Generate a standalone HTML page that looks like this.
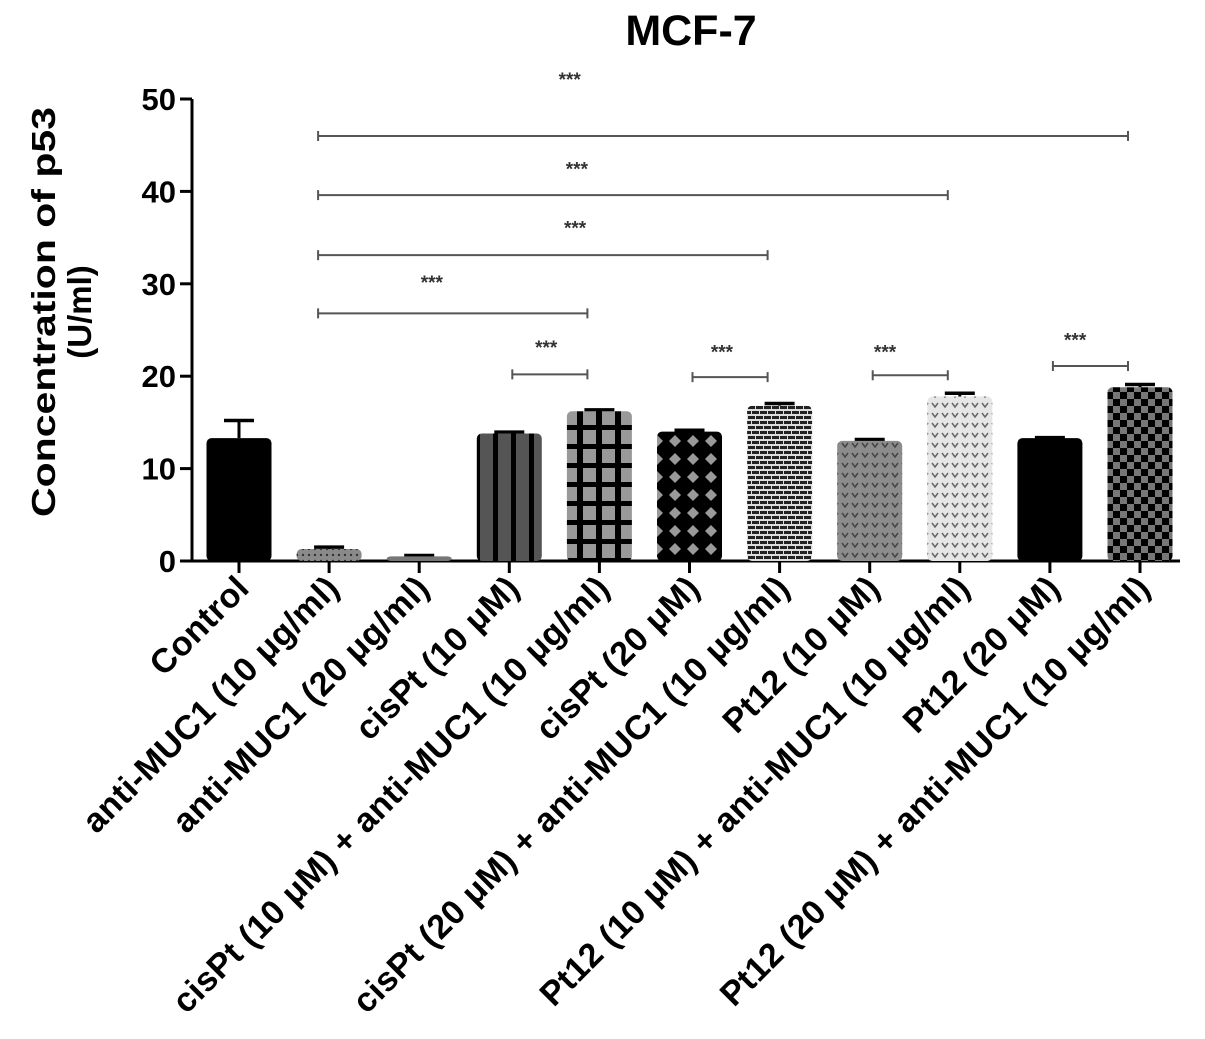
<!DOCTYPE html>
<html><head><meta charset="utf-8"><style>body{margin:0;background:#fff}svg{display:block;font-family:"Liberation Sans",sans-serif}</style></head>
<body>
<svg id="chart" width="1205" height="1039" viewBox="0 0 1205 1039">
<defs>
<pattern id="p1" width="6" height="6" patternUnits="userSpaceOnUse"><rect width="6" height="6" fill="#8a8a8a"/><circle cx="3" cy="3" r="1.2" fill="#333"/></pattern>
<pattern id="p3" width="18" height="10" patternUnits="userSpaceOnUse"><rect width="18" height="10" fill="#555"/><rect x="7" width="5" height="10" fill="#000"/></pattern>
<pattern id="p4" width="19" height="19" patternUnits="userSpaceOnUse"><rect width="19" height="19" fill="#999"/><rect x="7" width="6" height="19" fill="#000"/><rect y="7" width="19" height="5" fill="#000"/></pattern>
<pattern id="p5" width="18" height="18" patternUnits="userSpaceOnUse"><rect width="18" height="18" fill="#000"/><path d="M9 3 L15 9 L9 15 L3 9Z" fill="#999"/></pattern>
<pattern id="p6" width="16" height="10" patternUnits="userSpaceOnUse"><rect width="16" height="10" fill="#ddd"/><rect y="1" width="7" height="3" fill="#222"/><rect x="8" y="1" width="7" height="3" fill="#222"/><rect x="-4" y="6" width="7" height="3" fill="#222"/><rect x="4" y="6" width="7" height="3" fill="#222"/><rect x="12" y="6" width="7" height="3" fill="#222"/></pattern>
<pattern id="p7" width="10" height="10" patternUnits="userSpaceOnUse"><rect width="10" height="10" fill="#8c8c8c"/><path d="M2 3 L5 7 L8 3" stroke="#444" stroke-width="1.5" fill="none"/></pattern>
<pattern id="p8" width="10" height="10" patternUnits="userSpaceOnUse"><rect width="10" height="10" fill="#e6e6e6"/><path d="M2 3 L5 7 L8 3" stroke="#666" stroke-width="1.5" fill="none"/></pattern>
<pattern id="p10" width="14" height="14" patternUnits="userSpaceOnUse"><rect width="14" height="14" fill="#777"/><rect width="7" height="7" fill="#000"/><rect x="7" y="7" width="7" height="7" fill="#000"/></pattern>
</defs>
<text x="691" y="45" font-size="43" font-weight="bold" text-anchor="middle">MCF-7</text>
<g font-size="33" font-weight="bold" text-anchor="middle">
<text transform="translate(55,312) rotate(-90)" textLength="410" lengthAdjust="spacingAndGlyphs">Concentration of p53</text>
<text transform="translate(91,312) rotate(-90)">(U/ml)</text>
</g>
<g id="axes"></g><g id="bars"></g><g id="sig"></g>
</svg>
<script>
const categories=["Control","anti-MUC1 (10 μg/ml)","anti-MUC1 (20 μg/ml)","cisPt (10 μM)","cisPt (10  μM) + anti-MUC1 (10 μg/ml)","cisPt (20 μM)","cisPt (20 μM) + anti-MUC1 (10 μg/ml)","Pt12 (10 μM)","Pt12 (10  μM) + anti-MUC1 (10 μg/ml)","Pt12 (20 μM)","Pt12 (20 μM) + anti-MUC1 (10 μg/ml)"];
const values=[13.3,1.3,0.5,13.8,16.2,14.0,16.8,13.0,17.8,13.3,18.8];
const errors=[1.9,0.2,0.1,0.15,0.15,0.15,0.25,0.15,0.35,0.05,0.3];
const fills=["#000","url(#p1)","#777","url(#p3)","url(#p4)","url(#p5)","url(#p6)","url(#p7)","url(#p8)","#000","url(#p10)"];
const yTicks=[0,10,20,30,40,50];
const sigFrom=[1,1,1,1,3,5,7,9];
const sigTo=[10,8,6,4,4,6,8,10];
const sigLevel=[46,39.6,33.1,26.8,20.2,19.9,20.1,21.1];
const sigStarLevel=[52.5,42.8,36.4,30.5,23.5,23.0,23.0,24.3];
const sigStarCat=[3.67,3.75,3.73,2.14,3.41,5.36,7.17,9.28];
const NS="http://www.w3.org/2000/svg";
const y=v=>561-v*9.24;
const x=i=>239+i*90.1;
function mk(tag,attrs,parent,txt){const e=document.createElementNS(NS,tag);for(const k in attrs)e.setAttribute(k,attrs[k]);if(txt!==undefined)e.textContent=txt;parent.appendChild(e);return e;}
const ax=document.getElementById('axes'),bg=document.getElementById('bars'),sg=document.getElementById('sig');
let a=mk('line',{x1:192,y1:y(50),x2:192,y2:y(0)+1.5,stroke:'#000','stroke-width':3},ax);


a=mk('line',{x1:190.5,y1:y(0),x2:1180,y2:y(0),stroke:'#000','stroke-width':3},ax);


yTicks.forEach(t=>{
 mk('line',{x1:180,y1:y(t),x2:192,y2:y(t),stroke:'#000','stroke-width':3},ax);
 const tl=mk('text',{x:176,y:y(t)+11,'font-size':31,'font-weight':'bold','text-anchor':'end'},ax,String(t));
 
 
});
categories.forEach((c,i)=>{
 const cx=x(i);
 mk('line',{x1:cx,y1:y(0),x2:cx,y2:y(0)+12,stroke:'#000','stroke-width':3},ax);
 const lb=mk('text',{transform:`translate(${cx+12},590) rotate(-45)`,'font-size':34,'font-weight':'bold','text-anchor':'end','letter-spacing':0.4},ax,c);
 
 
 const top=y(values[i]+errors[i]);
 mk('line',{x1:cx,y1:y(values[i]),x2:cx,y2:top,stroke:'#000','stroke-width':3},bg);
 mk('line',{x1:cx-15,y1:top,x2:cx+15,y2:top,stroke:'#000','stroke-width':3.5},bg);
 const r=mk('rect',{x:cx-32.5,y:y(values[i]),width:65,height:y(0)-y(values[i]),rx:5,fill:fills[i]},bg);
 
 
});
sigFrom.forEach((f,k)=>{
 const x1=x(f)+(k<4?-11:3),x2=x(sigTo[k])-12,yy=y(sigLevel[k]);
 const g=mk('g',{},sg);
 
 
 mk('line',{x1:x1,y1:yy,x2:x2,y2:yy,stroke:'#555','stroke-width':2},g);
 mk('line',{x1:x1,y1:yy-5,x2:x1,y2:yy+5,stroke:'#555','stroke-width':2},g);
 mk('line',{x1:x2,y1:yy-5,x2:x2,y2:yy+5,stroke:'#555','stroke-width':2},g);
 mk('text',{x:x(sigStarCat[k]),y:y(sigStarLevel[k])+10,'font-size':19,'font-weight':'bold','text-anchor':'middle',fill:'#333'},g,'***');
});
</script>
</body></html>
